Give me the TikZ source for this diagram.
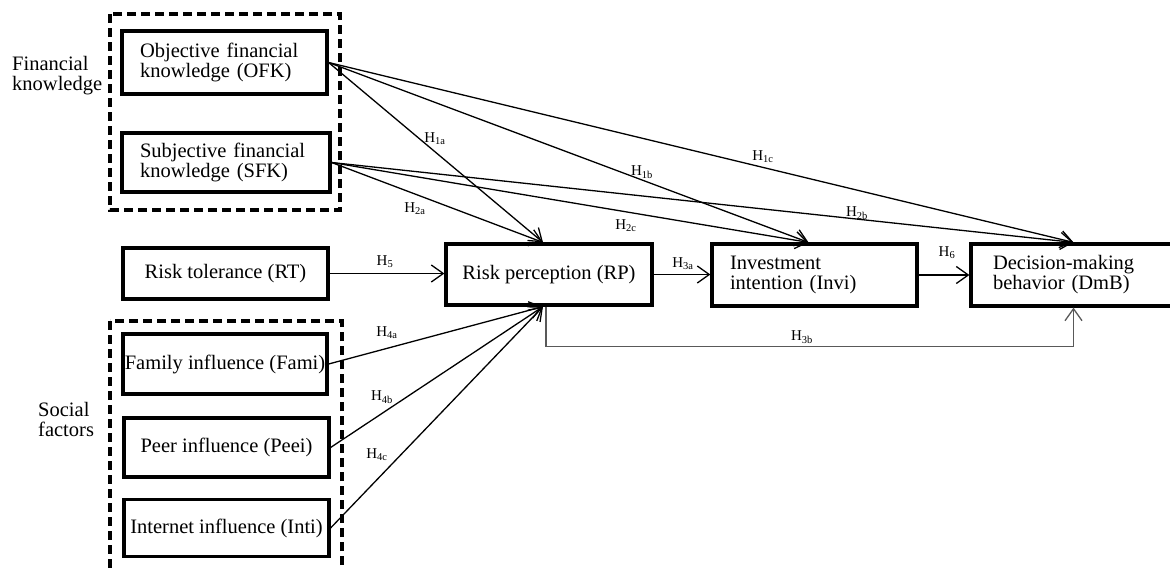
\documentclass[tikz,border=0pt]{standalone}
\usepackage{fontspec}
\setmainfont{Liberation Serif}
\usetikzlibrary{arrows.meta}

\tikzset{
  box/.style={draw, line width=3.2pt, minimum width=205pt, align=center, inner sep=0pt,
              font=\fontsize{20.5}{20}\selectfont},
  boxl/.style={box, align=left, text width=169pt, inner xsep=18pt},
  grp/.style={draw, line width=3.2pt, dash pattern=on 9pt off 5pt},
  hyp/.style={line width=1.3pt, -{Straight Barb[length=12pt,width=17pt,line width=1.3pt]}},
  lab/.style={font=\fontsize{15}{15}\selectfont, inner sep=1pt},
  side/.style={align=left, anchor=west, inner sep=0pt, font=\fontsize{20.5}{20}\selectfont}
}

\begin{document}
\begin{tikzpicture}[x=1pt, y=-1pt]
                    \clip (0,0) rectangle (1170,568);
                    \draw [grp] (110,14) rectangle (340,210);
                    \draw [grp] (110,321) rectangle (342,600);
                    \node [side] (fk) at (12,76) {Financial\\knowledge};
                    \node [side] (sf) at (38,419) {Social\\factors};

                    \node [boxl, minimum height=63pt] (OFK) at (224.5,62.5) {Objective financial\\knowledge (OFK)};
                    \node [boxl, minimum height=59pt, text width=172pt] (SFK) at (226,162.5) {Subjective financial\\knowledge (SFK)};
                    \node [box, minimum height=51pt] (RT) at (225.5,273.5) {Risk tolerance (RT)};
                    \node [box, minimum height=60pt, minimum width=204pt] (Fami) at (225,364) {Family influence (Fami)};
                    \node [box, minimum height=59pt] (Peei) at (226.5,447.5) {Peer influence (Peei)};
                    \node [box, minimum height=57pt] (Inti) at (226.5,528) {Internet influence (Inti)};
                    \node [box, minimum height=61pt, minimum width=206pt] (RP) at (549,274.5) {Risk perception (RP)};
                    \node [boxl, minimum height=62pt] (Invi) at (814.5,275) {Investment\\intention (Invi)};
                    \node [boxl, minimum height=62pt, text width=161pt] (DmB) at (1073.5,275) {Decision-making\\behavior (DmB)};

                    \draw [hyp] (OFK.east) -- ([xshift=-6pt]RP.north);
                    \draw [hyp] (OFK.east) -- ([xshift=-6pt]Invi.north);
                    \draw [hyp] (OFK.east) -- (DmB.north);
                    \draw [hyp] (SFK.east) -- ([xshift=-6pt]RP.north);
                    \draw [hyp] (SFK.east) -- ([xshift=-6pt]Invi.north);
                    \draw [hyp] (SFK.east) -- (DmB.north);
                    \draw [hyp] (RT.east) -- (RT.east -| RP.west);
                    \draw [hyp] (RP.east) -- (RP.east -| Invi.west);
                    \draw [hyp] (Invi.east) -- (Invi.east -| DmB.west);
                    \draw [hyp] (Fami.east) -- ([xshift=-6pt]RP.south);
                    \draw [hyp] (Peei.east) -- ([xshift=-6pt]RP.south);
                    \draw [hyp] (Inti.east) -- ([xshift=-6pt]RP.south);
                    \draw [hyp, black!65] ([xshift=-3pt]RP.south) -- ++(0,40) -| (DmB.south);

                    \node [lab] (h1a) at (435,139) {H\textsubscript{1a}};
                    \node [lab] (h1b) at (642,172) {H\textsubscript{1b}};
                    \node [lab] (h1c) at (763,157) {H\textsubscript{1c}};
                    \node [lab] (h2a) at (415,209) {H\textsubscript{2a}};
                    \node [lab] (h2b) at (857,213) {H\textsubscript{2b}};
                    \node [lab] (h2c) at (626,226) {H\textsubscript{2c}};
                    \node [lab] (h3a) at (683,264) {H\textsubscript{3a}};
                    \node [lab] (h3b) at (802,337) {H\textsubscript{3b}};
                    \node [lab] (h4a) at (387,333) {H\textsubscript{4a}};
                    \node [lab] (h4b) at (382,397) {H\textsubscript{4b}};
                    \node [lab] (h4c) at (377,455) {H\textsubscript{4c}};
                    \node [lab] (h5) at (385,262) {H\textsubscript{5}};
                    \node [lab] (h6) at (947,253) {H\textsubscript{6}};
\end{tikzpicture}
\end{document}
